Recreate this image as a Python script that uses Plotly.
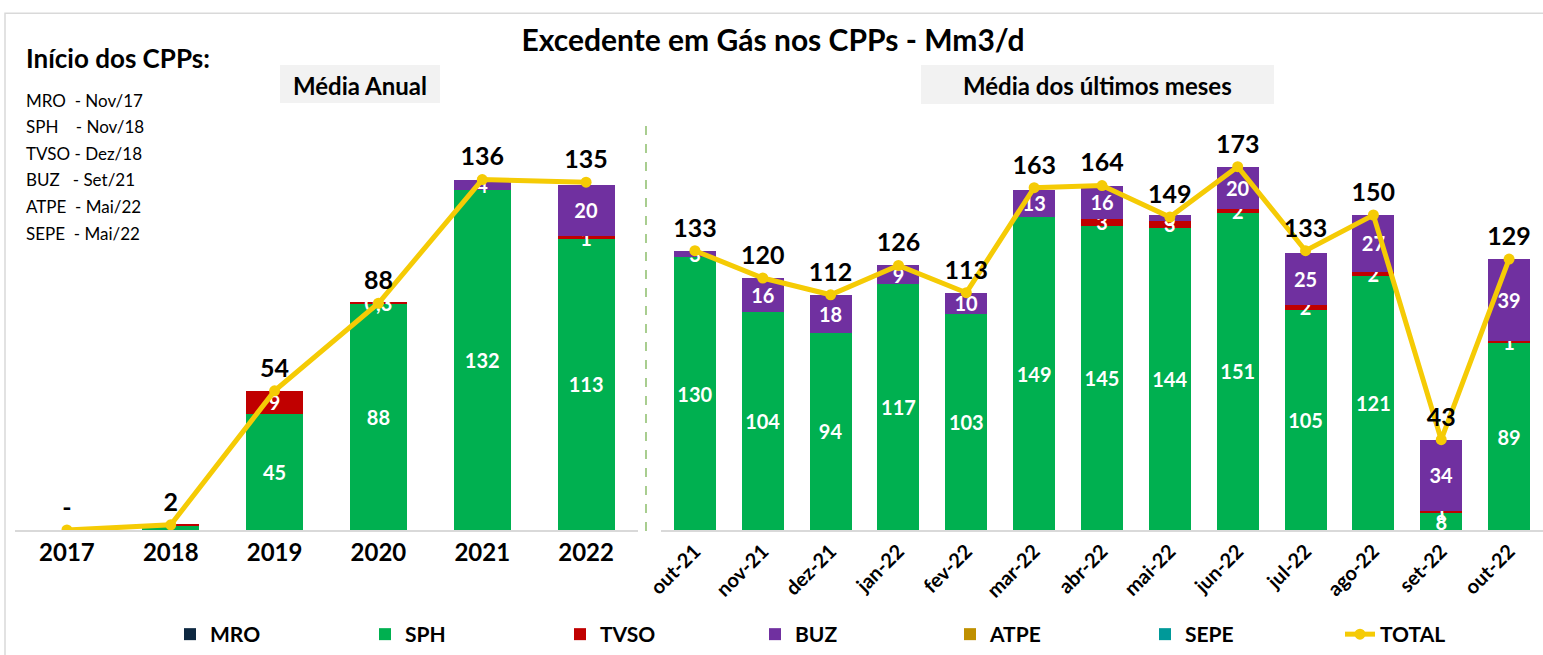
import plotly.graph_objects as go

# ---- data -------------------------------------------------------------
years = ["2017", "2018", "2019", "2020", "2021", "2022"]
months = ["out-21", "nov-21", "dez-21", "jan-22", "fev-22", "mar-22", "abr-22",
          "mai-22", "jun-22", "jul-22", "ago-22", "set-22", "out-22"]

series = ["MRO", "SPH", "TVSO", "BUZ", "ATPE", "SEPE"]
colors = {"MRO": "#0E2841", "SPH": "#00B050", "TVSO": "#C00000",
          "BUZ": "#7030A0", "ATPE": "#BF9000", "SEPE": "#009999"}

annual = {
    "MRO":  [0, 0, 0, 0, 0, 0],
    "SPH":  [0, 1.6, 45, 88, 132, 113],
    "TVSO": [0, 0.4, 9, 0.3, 0, 1],
    "BUZ":  [0, 0, 0, 0, 4, 20],
    "ATPE": [0, 0, 0, 0, 0, 0],
    "SEPE": [0, 0, 0, 0, 0, 0],
}
annual_labels = {
    "SPH":  ["", "", "45", "88", "132", "113"],
    "TVSO": ["", "", "9", "0,3", "", "1"],
    "BUZ":  ["", "", "", "", "4", "20"],
}
annual_total = [0, 2, 54, 88, 136, 135]
annual_total_txt = ["-", "2", "54", "88", "136", "135"]

monthly = {
    "MRO":  [0] * 13,
    "SPH":  [130, 104, 94, 117, 103, 149, 145, 144, 151, 105, 121, 8, 89],
    "TVSO": [0, 0, 0, 0, 0, 0, 3, 3, 2, 2, 2, 1, 1],
    "BUZ":  [3, 16, 18, 9, 10, 13, 16, 3, 20, 25, 27, 34, 39],
    "ATPE": [0] * 13,
    "SEPE": [0] * 13,
}
monthly_total = [133, 120, 112, 126, 113, 163, 164, 149, 173, 133, 150, 43, 129]

cpp_start = ["MRO\u00a0\u00a0- Nov/17", "SPH\u00a0\u00a0\u00a0\u00a0- Nov/18",
             "TVSO - Dez/18", "BUZ\u00a0\u00a0\u00a0- Set/21",
             "ATPE\u00a0\u00a0- Mai/22", "SEPE\u00a0\u00a0- Mai/22"]

# ---- geometry helpers (pixel -> paper) --------------------------------
W, H = 1543, 655
T, B = 110, 124
PH = H - T - B
FONT = "Lato"
LINE_COLOR = "#F5CB05"


def px(x):
    return x / W


def py(y):
    return 1 - (y - T) / PH


def lbl(vals):
    return [str(v) if v else "" for v in vals]


fig = go.Figure()

bar_font = dict(color="white", size=20, family=FONT, weight="bold")
for s in series:
    fig.add_trace(go.Bar(
        x=years, y=annual[s], name=s, legendgroup=s,
        marker=dict(color=colors[s], line_width=0), width=0.55,
        text=annual_labels.get(s, [""] * 6), textposition="inside",
        insidetextanchor="middle", textangle=0, textfont=bar_font,
        xaxis="x", yaxis="y", hoverinfo="x+y+name",
    ))
    fig.add_trace(go.Bar(
        x=months, y=monthly[s], name=s, legendgroup=s, showlegend=False,
        marker=dict(color=colors[s], line_width=0), width=0.62,
        text=lbl(monthly[s]), textposition="inside",
        insidetextanchor="middle", textangle=0, textfont=bar_font,
        xaxis="x2", yaxis="y2", hoverinfo="x+y+name",
    ))

line_style = dict(color=LINE_COLOR, width=5)
total_font = dict(color="black", size=25, family=FONT, weight="bold")
fig.add_trace(go.Scatter(
    x=years, y=annual_total, name="TOTAL", legendgroup="TOTAL",
    mode="lines+markers+text", line=line_style,
    marker=dict(size=11, color=LINE_COLOR),
    text=annual_total_txt, textposition="top center", textfont=total_font,
    xaxis="x", yaxis="y",
))
fig.add_trace(go.Scatter(
    x=months, y=monthly_total, name="TOTAL", legendgroup="TOTAL",
    showlegend=False, mode="lines+markers+text", line=line_style,
    marker=dict(size=11, color=LINE_COLOR),
    text=[str(v) for v in monthly_total], textposition="top center",
    textfont=total_font, xaxis="x2", yaxis="y2",
))

axis_common = dict(type="category", showline=True, linecolor="#D9D9D9",
                   linewidth=1.5, ticks="", showgrid=False, fixedrange=True,
                   automargin=False)

annotations = [
    dict(text="<b>Início dos CPPs:</b>", x=px(24), y=py(58), xanchor="left",
         yanchor="middle", font=dict(size=26)),
    dict(text="<b>Média Anual</b>", x=px(360), y=py(85), xanchor="center",
         yanchor="middle", font=dict(size=24)),
    dict(text="<b>Média dos últimos meses</b>", x=px(1097), y=py(85),
         xanchor="center", yanchor="middle", font=dict(size=24)),
]
for i, t in enumerate(cpp_start):
    annotations.append(dict(text=t, x=px(24), y=py(100 + i * 26.7),
                            xanchor="left", yanchor="middle",
                            font=dict(size=17)))
for a in annotations:
    a.update(xref="paper", yref="paper", showarrow=False)
    a["font"].update(family=FONT, color="black")

shapes = [
    # outer frame
    dict(type="rect", x0=px(5), x1=px(1560), y0=py(700), y1=py(13),
         line=dict(color="#D9D9D9", width=1.5)),
    # header boxes
    dict(type="rect", x0=px(280), x1=px(440), y0=py(103), y1=py(65),
         fillcolor="#F2F2F2", line_width=0, layer="below"),
    dict(type="rect", x0=px(921), x1=px(1274), y0=py(104), y1=py(65),
         fillcolor="#F2F2F2", line_width=0, layer="below"),
    # divider between panels
    dict(type="line", x0=px(646), x1=px(646), y0=py(532), y1=py(118),
         line=dict(color="#70AD47", width=1.2, dash="dash")),
]
for s in shapes:
    s.update(xref="paper", yref="paper")

fig.update_layout(
    width=W, height=H,
    margin=dict(l=0, r=0, t=T, b=B),
    paper_bgcolor="white", plot_bgcolor="white",
    barmode="stack",
    font=dict(family=FONT, color="black"),
    title=dict(text="<b>Excedente em Gás nos CPPs - Mm3/d</b>",
               x=px(773), xanchor="center", y=1 - 40 / H, yanchor="middle",
               font=dict(size=30, family=FONT, color="black")),
    xaxis=dict(domain=[px(15), px(638)], anchor="y",
               range=[-0.5, len(years) - 0.5],
               tickfont=dict(size=24, family=FONT, weight="bold"),
               **axis_common),
    xaxis2=dict(domain=[px(661), 1.0], anchor="y2", tickangle=-45,
                range=[-0.5, len(months) - 0.5],
                tickfont=dict(size=20, family=FONT, weight="bold"),
                **axis_common),
    yaxis=dict(range=[0, 163], visible=False, fixedrange=True),
    yaxis2=dict(range=[0, 200], visible=False, anchor="x2", fixedrange=True),
    uniformtext=dict(mode="show", minsize=20),
    legend=dict(orientation="h", x=px(170), y=py(636), xanchor="left",
                yanchor="middle", entrywidth=150, itemwidth=30,
                font=dict(size=21, family=FONT, weight="bold")),
    annotations=annotations,
    shapes=shapes,
    showlegend=True,
)

# the page's default body margin would shift the figure by 8 px
fig.write_html("out.html", config={"displayModeBar": False},
               post_script="document.body.style.margin='0';")
